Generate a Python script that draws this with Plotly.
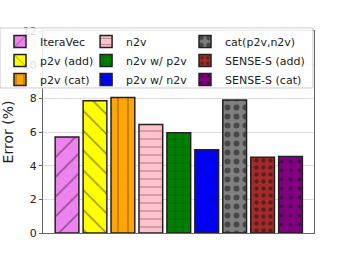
import plotly.graph_objects as go

methods = ["IteraVec", "p2v (add)", "p2v (cat)", "n2v", "n2v w/ p2v",
           "p2v w/ n2v", "cat(p2v,n2v)", "SENSE-S (add)", "SENSE-S (cat)"]
errors = [5.7, 7.85, 8.05, 6.45, 5.95, 4.95, 7.9, 4.5, 4.55]
colors = ["violet", "yellow", "orange", "pink", "green", "blue", "gray", "brown", "purple"]
patterns = ["/", "\\", "|", "-", "+", "x", ".", ".", "."]
psizes = [14, 14, 10, 8, 8, 14, 9, 7, 9]
psol = [0.1, 0.1, 0.1, 0.1, 0.1, 0.1, 0.35, 0.3, 0.15]
yticks = [0, 2, 4, 6, 8, 10, 12]

legend_ids = ["legend", "legend2", "legend3"]
legend_x = [-0.1587, 0.159, 0.524]

fig = go.Figure()
for i, (m, e, c, p) in enumerate(zip(methods, errors, colors, patterns)):
    fig.add_trace(go.Bar(
        x=[i], y=[e], name=m, width=0.85,
        marker=dict(color=c, line=dict(color="#222", width=1.5),
                    pattern=dict(shape=p, fgcolor="#111", size=psizes[i], solidity=psol[i])),
        legend=legend_ids[i // 3],
    ))

leg_common = dict(orientation="v", y=1.02, yanchor="top", xanchor="left",
                  bgcolor="rgba(0,0,0,0)", borderwidth=0,
                  font=dict(size=11), traceorder="normal", tracegroupgap=0,
                  itemwidth=30)
fig.update_layout(
    width=349, height=262,
    margin=dict(l=43, r=35, t=31, b=29, autoexpand=False),
    plot_bgcolor="white", paper_bgcolor="white",
    font=dict(family="DejaVu Sans", color="#222"),
    showlegend=True,
    legend=dict(x=legend_x[0], **leg_common),
    legend2=dict(x=legend_x[1], **leg_common),
    legend3=dict(x=legend_x[2], **leg_common),
    shapes=[dict(type="rect", xref="paper", yref="paper", x0=-0.1587, x1=0.996,
                 y0=0.718, y1=1.0149, fillcolor="rgba(255,255,255,0.85)",
                 line=dict(color="#ccc", width=1), layer="above")],
    xaxis=dict(range=[-0.86, 8.84], showticklabels=False, ticks="", showgrid=False,
               showline=True, linecolor="#666", linewidth=1.2, mirror=True, zeroline=False),
    yaxis=dict(range=[0, 12], tickvals=yticks, tickfont=dict(size=11),
               title=dict(text="Error (%)", font=dict(size=14), standoff=6),
               showgrid=True, gridcolor="#ddd", gridwidth=1,
               showline=True, linecolor="#666", linewidth=1.2, mirror=True,
               ticks="outside", ticklen=3, tickcolor="#666", zeroline=False),
    bargap=0.15,
)
fig.write_html("out.html", config={"displayModeBar": False},
               post_script="document.body.style.margin='0px';")
